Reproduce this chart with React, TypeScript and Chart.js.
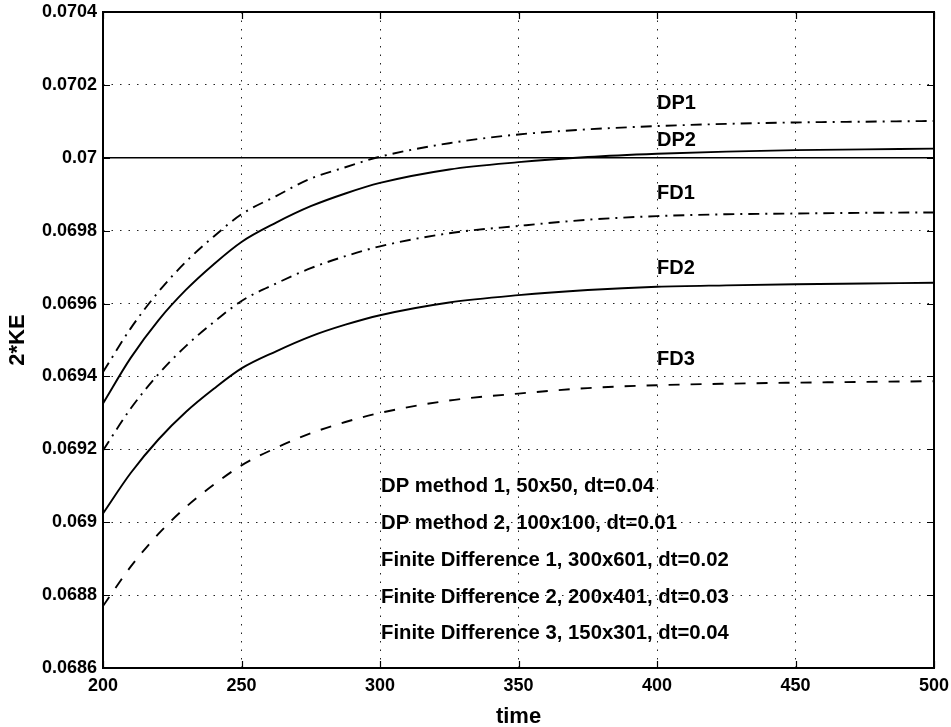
import React, { useEffect, useRef } from 'react';
import { Chart, registerables } from 'chart.js';

Chart.register(...registerables);

// ---- data ----
const time = [200, 210, 220, 230, 240, 250, 262.5, 275, 287.5, 300, 325, 350, 375, 400, 425, 450, 475, 500];

const dp1 = [0.069412, 0.069532, 0.069632, 0.069715, 0.069784, 0.069845, 0.069895, 0.069943, 0.069974, 0.070003, 0.070040, 0.070064, 0.070078, 0.070087, 0.070093, 0.070097, 0.070099, 0.070101];
const dp2 = [0.069326, 0.069451, 0.069554, 0.069638, 0.069708, 0.069769, 0.069822, 0.069867, 0.069902, 0.069931, 0.069968, 0.069988, 0.070002, 0.070011, 0.070017, 0.070021, 0.070023, 0.070025];
const fd1 = [0.069197, 0.069312, 0.069406, 0.069484, 0.069549, 0.069607, 0.069655, 0.069697, 0.069730, 0.069757, 0.069793, 0.069813, 0.069830, 0.069840, 0.069845, 0.069847, 0.069849, 0.069850];
const fd2 = [0.069024, 0.069135, 0.069227, 0.069303, 0.069366, 0.069422, 0.069469, 0.069510, 0.069542, 0.069568, 0.069603, 0.069623, 0.069637, 0.069646, 0.069650, 0.069653, 0.069655, 0.069657];
const fd3 = [0.068770, 0.068878, 0.068968, 0.069042, 0.069103, 0.069156, 0.069204, 0.069244, 0.069275, 0.069300, 0.069334, 0.069353, 0.069368, 0.069376, 0.069380, 0.069383, 0.069385, 0.069387];

const refTime = [200, 500];
const refValue = [0.07, 0.07];

const xTickValues = [200, 250, 300, 350, 400, 450, 500];
const xTickLabels = ['200', '250', '300', '350', '400', '450', '500'];
const yTickValues = [0.0686, 0.0688, 0.069, 0.0692, 0.0694, 0.0696, 0.0698, 0.07, 0.0702, 0.0704];
const yTickLabels = ['0.0686', '0.0688', '0.069', '0.0692', '0.0694', '0.0696', '0.0698', '0.07', '0.0702', '0.0704'];

const curveLabels = ['DP1', 'DP2', 'FD1', 'FD2', 'FD3'];
const curveLabelX = 400;
const curveLabelY = [0.07015, 0.070048, 0.069903, 0.069697, 0.069447];

const noteLines = [
  'DP method 1, 50x50, dt=0.04',
  'DP method 2, 100x100, dt=0.01',
  'Finite Difference 1, 300x601, dt=0.02',
  'Finite Difference 2, 200x401, dt=0.03',
  'Finite Difference 3, 150x301, dt=0.04',
];
const noteX = 300;
const noteY = [0.069099, 0.068997, 0.068896, 0.068794, 0.068695];

const FONT = "'Liberation Sans', Arial, Helvetica, sans-serif";
const DASH_DOT = [11, 6, 2, 6];
const DASHED = [11, 11];

const pts = (xs: number[], ys: number[]) => xs.map((x, i) => ({ x, y: ys[i] }));

export default function App() {
  const ref = useRef<HTMLCanvasElement>(null);

  useEffect(() => {
    const canvas = ref.current;
    if (!canvas) return;

    const framePlugin = {
      id: 'frame',
      afterDraw(chart: any) {
        const { ctx, chartArea: a, scales } = chart;
        const xs = scales.x;
        const ys = scales.y;
        ctx.save();
        ctx.strokeStyle = '#000';
        ctx.lineWidth = 1.2;
        ctx.setLineDash([]);
        ctx.beginPath();
        xTickValues.forEach((v) => {
          const px = Math.round(xs.getPixelForValue(v)) + 0.5;
          ctx.moveTo(px, a.bottom);
          ctx.lineTo(px, a.bottom - 7);
          ctx.moveTo(px, a.top);
          ctx.lineTo(px, a.top + 7);
        });
        yTickValues.forEach((v) => {
          const py = Math.round(ys.getPixelForValue(v)) + 0.5;
          ctx.moveTo(a.left, py);
          ctx.lineTo(a.left + 7, py);
          ctx.moveTo(a.right, py);
          ctx.lineTo(a.right - 7, py);
        });
        ctx.stroke();
        ctx.lineWidth = 2;
        ctx.strokeRect(a.left, a.top, a.right - a.left, a.bottom - a.top);

        ctx.fillStyle = '#000';
        ctx.textBaseline = 'middle';
        ctx.textAlign = 'left';
        ctx.font = `bold 20px ${FONT}`;
        curveLabels.forEach((t, i) => {
          ctx.fillText(t, xs.getPixelForValue(curveLabelX), ys.getPixelForValue(curveLabelY[i]));
        });
        ctx.font = `bold 20.3px ${FONT}`;
        noteLines.forEach((t, i) => {
          ctx.fillText(t, xs.getPixelForValue(noteX) + 1, ys.getPixelForValue(noteY[i]));
        });
        ctx.restore();
      },
    };

    const lineStyle = {
      borderColor: '#000',
      backgroundColor: '#000',
      borderWidth: 1.9,
      pointRadius: 0,
      fill: false,
      cubicInterpolationMode: 'monotone' as const,
    };

    const chart = new Chart(canvas, {
      type: 'line',
      data: {
        datasets: [
          { ...lineStyle, label: 'DP1', data: pts(time, dp1), borderDash: DASH_DOT },
          { ...lineStyle, label: 'DP2', data: pts(time, dp2) },
          { ...lineStyle, label: 'FD1', data: pts(time, fd1), borderDash: DASH_DOT },
          { ...lineStyle, label: 'FD2', data: pts(time, fd2) },
          { ...lineStyle, label: 'FD3', data: pts(time, fd3), borderDash: DASHED },
          { ...lineStyle, label: 'ref', data: pts(refTime, refValue), borderWidth: 1.6 },
        ],
      },
      options: {
        responsive: false,
        animation: false,
        layout: { padding: { top: 12, right: 17, bottom: 0, left: 0 } },
        plugins: { legend: { display: false }, tooltip: { enabled: false } },
        scales: {
          x: {
            type: 'linear',
            min: 200,
            max: 500,
            afterBuildTicks: (axis: any) => {
              axis.ticks = xTickValues.map((v) => ({ value: v }));
            },
            afterFit: (scale: any) => {
              scale.height = 59;
            },
            ticks: {
              autoSkip: false,
              maxRotation: 0,
              padding: 0,
              color: '#000',
              font: { family: FONT, size: 18, weight: 'bold', lineHeight: 1.97 },
              callback: (_v: any, i: number) => xTickLabels[i],
            },
            grid: { color: '#222', lineWidth: 1, drawTicks: false },
            border: { display: false, dash: [1.5, 7] },
            title: {
              display: true,
              text: 'time',
              color: '#000',
              font: { family: FONT, size: 22, weight: 'bold', lineHeight: 0.9 },
              padding: { top: 0, bottom: 0 },
            },
          },
          y: {
            type: 'linear',
            min: 0.0686,
            max: 0.0704,
            afterBuildTicks: (axis: any) => {
              axis.ticks = yTickValues.map((v) => ({ value: v }));
            },
            afterFit: (scale: any) => {
              scale.width = 103;
            },
            ticks: {
              autoSkip: false,
              padding: 6,
              color: '#000',
              font: { family: FONT, size: 18, weight: 'bold', lineHeight: 0.6 },
              callback: (_v: any, i: number) => yTickLabels[i],
            },
            grid: { color: '#222', lineWidth: 1, drawTicks: false },
            border: { display: false, dash: [1.5, 7] },
            title: {
              display: true,
              text: '2*KE',
              color: '#000',
              font: { family: FONT, size: 22, weight: 'bold', lineHeight: 1 },
              padding: { top: 7, bottom: 0 },
            },
          },
        },
      },
      plugins: [framePlugin],
    });

    return () => {
      chart.destroy();
    };
  }, []);

  return (
    <div style={{ position: 'absolute', left: 0, top: 0, width: 951, height: 727, background: '#fff' }}>
      <canvas ref={ref} width={951} height={727} style={{ display: 'block' }} />
    </div>
  );
}
